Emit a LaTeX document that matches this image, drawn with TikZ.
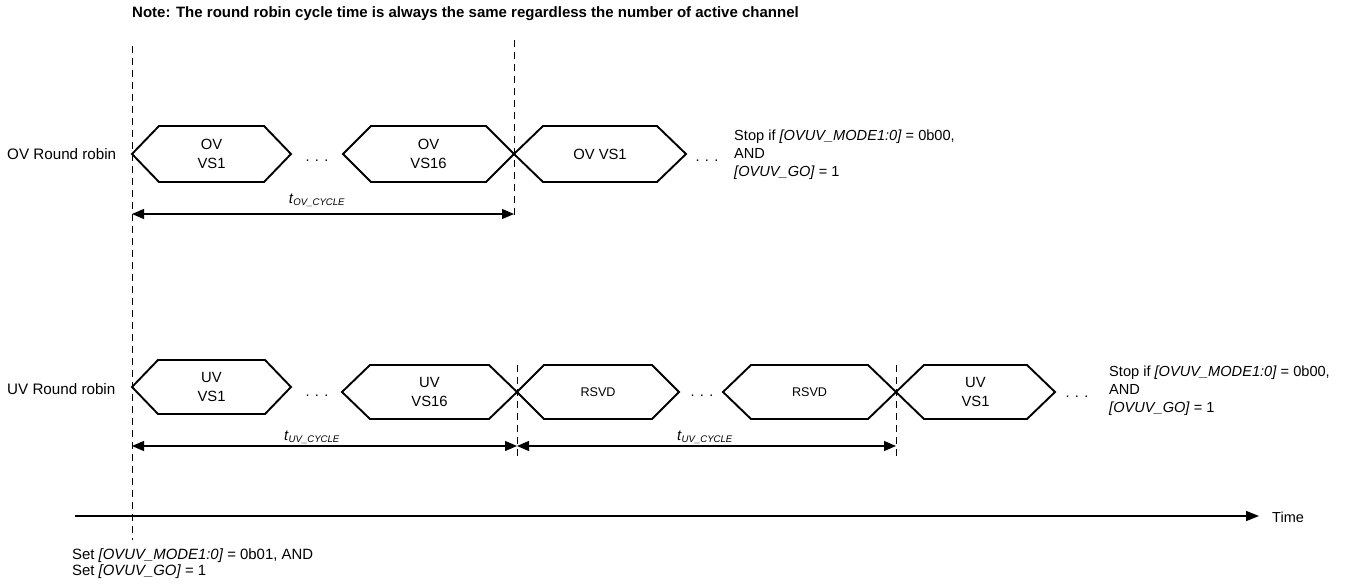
\documentclass[tikz,border=0pt]{standalone}
\usepackage{fontspec}
\setmainfont{Liberation Sans}
\usetikzlibrary{arrows.meta}
\newcommand\hexbox[8]{%
  \draw[hexline] (#2,#4) -- ({#2+#6},{#4-#5}) -- ({#3-#6},{#4-#5}) -- (#3,#4)
     -- ({#3-#6},{#4+#5}) -- ({#2+#6},{#4+#5}) -- cycle;
  \node[#7] (#1) at ({(#2+#3)/2},#4) {#8};}
\begin{document}
\begin{tikzpicture}[x=1pt,y=-1pt,
  hexline/.style={line width=1.9pt, line join=miter},
  lbl/.style={font=\fontsize{15.2}{18}\selectfont, inner sep=0pt},
  hexlbl/.style={font=\fontsize{14.8}{18.5}\selectfont, align=center, inner sep=0pt},
  rsvdlbl/.style={font=\fontsize{12.6}{15}\selectfont, inner sep=0pt},
  stoplbl/.style={font=\fontsize{14.6}{18}\selectfont, align=left, anchor=west, inner sep=0pt},
  dotlbl/.style={font=\fontsize{14.5}{17}\selectfont, inner sep=0pt, anchor=base},
  cyclbl/.style={font=\fontsize{14.8}{17}\selectfont, inner sep=0pt, anchor=base},
  vguide/.style={dash pattern=on 7pt off 5pt, line width=0.9pt},
  dimline/.style={{Triangle[length=12pt,width=10pt]}-{Triangle[length=12pt,width=10pt]}, line width=1.2pt},
  axisline/.style={-{Triangle[length=13pt,width=10pt]}, line width=1.5pt}]
\useasboundingbox (0,0) rectangle (1350,586);

% note
\node[font=\bfseries\fontsize{15}{17}\selectfont, anchor=west, inner sep=0pt] (note) at (132,14)
  {Note: The round robin cycle time is always the same regardless the number of active channel};

% guide lines
\coordinate (g0t) at (132,46);
\coordinate (g0b) at (132,540);
\coordinate (g1t) at (514,40);
\coordinate (g1b) at (514,219);
\coordinate (g2t) at (517,365);
\coordinate (g2b) at (517,456);
\coordinate (g3t) at (896,365);
\coordinate (g3b) at (896,456);
\draw[vguide] (g0t) -- (g0b);
\draw[vguide] (g1t) -- (g1b);
\draw[vguide] (g2t) -- (g2b);
\draw[vguide] (g3t) -- (g3b);

% row labels
\node[lbl, anchor=west] (ovrr) at (7,154) {OV Round robin};
\node[lbl, anchor=west] (uvrr) at (7,389) {UV Round robin};

% OV row
\hexbox{ov1}{132}{291}{154}{28}{27}{hexlbl}{OV\\VS1}
\node[dotlbl] (ovd1) at (317,161) {. . .};
\hexbox{ov16}{343}{514}{154}{28}{28}{hexlbl}{OV\\VS16}
\hexbox{ov1b}{514}{686}{154}{28}{29}{hexlbl}{OV VS1}
\node[dotlbl] (ovd2) at (707,161) {. . .};
\node[stoplbl] (ovstop) at (734,155)
  {Stop if \textit{[OVUV\_MODE1:0]} = 0b00,\\AND\\\textit{[OVUV\_GO]} = 1};

% OV cycle
\coordinate (ova) at (132,214);
\coordinate (ovb) at (514,214);
\draw[dimline] (ova) -- (ovb);
\node[cyclbl] (ovcyc) at (317,203) {\textit{t}\textsubscript{\fontsize{9.6}{11}\selectfont\textit{OV\_CYCLE}}};

% UV row
\hexbox{uv1}{132}{291}{387}{27}{26}{hexlbl}{UV\\VS1}
\node[dotlbl] (uvd1) at (317,396) {. . .};
\hexbox{uv16}{342}{517}{392}{27}{28}{hexlbl}{UV\\VS16}
\hexbox{rs1}{517}{679}{392}{27}{27}{rsvdlbl}{RSVD}
\node[dotlbl] (uvd2) at (702,396) {. . .};
\hexbox{rs2}{723}{896}{392}{27}{28}{rsvdlbl}{RSVD}
\hexbox{uv1b}{896}{1055}{392}{27}{28}{hexlbl}{UV\\VS1}
\node[dotlbl] (uvd3) at (1077,397) {. . .};
\node[stoplbl] (uvstop) at (1109,391)
  {Stop if \textit{[OVUV\_MODE1:0]} = 0b00,\\AND\\\textit{[OVUV\_GO]} = 1};

% UV cycles
\coordinate (uva) at (132,446);
\coordinate (uvb) at (517,446);
\coordinate (uvc) at (896,446);
\draw[dimline] (uva) -- (uvb);
\draw[dimline] (uvb) -- (uvc);
\node[cyclbl] (uvcyc1) at (312,440) {\textit{t}\textsubscript{\fontsize{9.6}{11}\selectfont\textit{UV\_CYCLE}}};
\node[cyclbl] (uvcyc2) at (705,440) {\textit{t}\textsubscript{\fontsize{9.6}{11}\selectfont\textit{UV\_CYCLE}}};

% time axis
\coordinate (ta) at (75,516);
\node[lbl, anchor=west, font=\fontsize{14.5}{17}\selectfont] (time) at (1272,517) {Time};
\draw[axisline] (ta) -- (1259,516);

% start condition
\node[lbl, anchor=west, align=left, font=\fontsize{14.9}{16}\selectfont] (setc) at (72,564)
  {Set \textit{[OVUV\_MODE1:0]} = 0b01, AND\\Set \textit{[OVUV\_GO]} = 1};
\end{tikzpicture}
\end{document}
